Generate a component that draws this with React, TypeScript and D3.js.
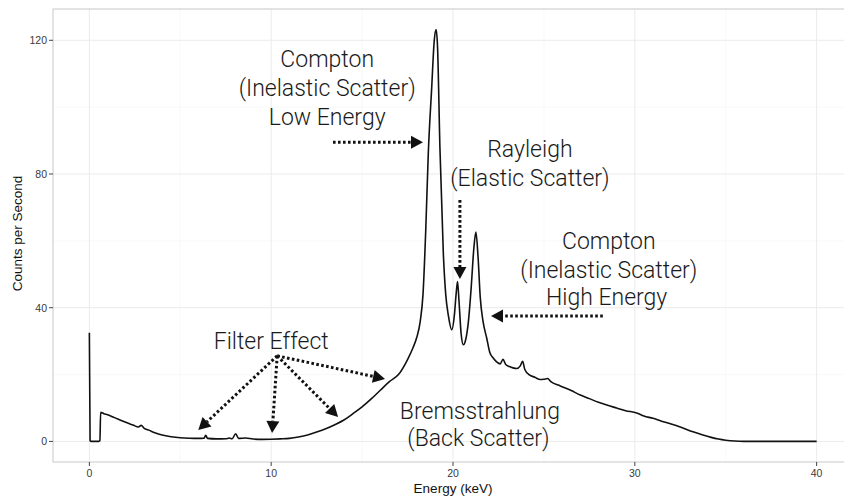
import React from "react";
import * as d3 from "d3";

const energy = [
  0, 0.04, 0.1, 0.5, 0.58, 0.62, 0.8, 1.0, 1.3, 1.6, 2.0, 2.4, 2.7, 2.85, 3.0, 3.3, 3.6, 4.0, 4.5, 5.0,
  5.5, 6.0, 6.3, 6.4, 6.5, 7.0, 7.5, 7.7, 7.85, 8.05, 8.2, 8.6, 9.0, 9.5, 10.0, 10.5, 11.0, 11.5, 12.0, 12.5,
  13.0, 13.5, 14.0, 14.5, 15.0, 15.5, 16.0, 16.5, 17.0, 17.5, 17.8, 18.0, 18.2, 18.35, 18.5, 18.64, 18.83, 18.97, 19.07, 19.15,
  19.28, 19.47, 19.6, 19.75, 19.93, 20.08, 20.17, 20.25, 20.33, 20.45, 20.57, 20.7, 20.85, 21.0, 21.15, 21.26, 21.38, 21.5, 21.65, 21.85,
  22.03, 22.2, 22.4, 22.6, 22.75, 22.9, 23.1, 23.3, 23.5, 23.7, 23.83, 23.95, 24.2, 24.5, 24.8, 25.0, 25.2, 25.4, 25.9, 26.5,
  27.0, 27.5, 28.0, 28.5, 29.0, 29.5, 30.1, 30.5, 31.0, 31.4, 32.0, 32.5, 33.2, 33.7, 34.2, 34.6, 35.0, 35.5, 36.0, 37.0,
  38.0, 39.0, 40.0,
];
const counts = [
  32.5, 0.2, 0, 0, 0.3, 8.7, 8.3, 8.0, 7.3, 6.6, 5.7, 4.9, 4.3, 4.8, 4.0, 3.3, 2.6, 1.9, 1.4, 1.1,
  0.95, 0.9, 0.95, 1.8, 0.9, 0.75, 0.8, 1.0, 0.8, 2.3, 0.9, 1.0, 0.7, 0.6, 0.65, 0.75, 0.9, 1.3, 1.9, 2.8,
  3.8, 5.0, 6.4, 8.3, 10.3, 12.7, 15.3, 17.9, 20.0, 24.5, 28.0, 31.0, 36.0, 44.0, 63.0, 86.0, 106.0, 120.0, 123.2, 118.0,
  88.0, 56.0, 44.0, 37.5, 33.4, 38.0, 44.0, 47.8, 42.0, 32.0, 28.9, 30.5, 36.0, 46.0, 58.0, 62.6, 55.0, 43.0, 36.0, 31.0,
  26.5, 25.0, 23.8, 23.2, 24.6, 23.0, 22.4, 22.0, 21.8, 22.6, 24.0, 21.5, 19.9, 19.2, 18.5, 18.6, 18.8, 17.8, 16.6, 15.2,
  13.9, 12.8, 11.7, 10.8, 10.0, 9.2, 8.5, 7.6, 6.9, 6.2, 5.2, 4.3, 2.9, 2.0, 1.2, 0.7, 0.35, 0.1, 0.02, 0,
  0, 0, 0,
];

const xTicks = [0, 10, 20, 30, 40];
const xMinor = [5, 15, 25, 35];
const yTicks = [0, 40, 80, 120];
const yMinor = [20, 60, 100];

// annotation texts: [x, y, text]
const labelX = [13.08, 13.08, 13.08, 24.23, 24.23, 28.57, 28.57, 28.45, 10.0, 21.48, 21.4];
const labelY = [114.3, 105.6, 97.0, 87.4, 78.7, 59.9, 51.3, 43.2, 30.0, 9.1, 1.0];
const labelText = [
  "Compton", "(Inelastic Scatter)", "Low Energy",
  "Rayleigh", "(Elastic Scatter)",
  "Compton", "(Inelastic Scatter)", "High Energy",
  "Filter Effect",
  "Bremsstrahlung", "(Back Scatter)",
];

// arrows: from (x0,y0) to (x1,y1) in data units
const arrowX0 = [13.4, 20.38, 28.24, 10.33, 10.33, 10.33, 10.33];
const arrowY0 = [89.5, 72.2, 37.5, 25.6, 25.6, 25.6, 25.6];
const arrowX1 = [18.35, 20.38, 22.09, 5.99, 10.05, 13.68, 16.26];
const arrowY1 = [89.5, 48.6, 37.5, 3.4, 2.5, 7.3, 18.7];

export default function App() {
  const W = 844, H = 497;
  const left = 53, top = 9, right = 853, bottom = 462;
  const x = d3.scaleLinear().domain([-2, 42]).range([left, right]);
  const y = d3.scaleLinear().domain([-6.16, 129.36]).range([bottom, top]);

  const pts = energy.map((e, i) => [e, counts[i]] as [number, number]);
  const line = d3.line<[number, number]>()
    .x(d => x(d[0]))
    .y(d => y(d[1]))
    .curve(d3.curveMonotoneX);

  const axisFont = "'Liberation Sans', Arial, Helvetica, sans-serif";
  const annFont = "Roboto, 'Liberation Sans', sans-serif";

  return (
    <svg width={W} height={H} style={{ position: "absolute", left: 0, top: 0, background: "#fff" }}>
      <rect x={0} y={0} width={W} height={H} fill="#fff" />
      {/* grid */}
      {xMinor.map(v => (
        <line key={"xm" + v} x1={x(v)} x2={x(v)} y1={top} y2={bottom} stroke="#f4f4f4" strokeWidth={0.6} />
      ))}
      {yMinor.map(v => (
        <line key={"ym" + v} x1={left} x2={right} y1={y(v)} y2={y(v)} stroke="#f4f4f4" strokeWidth={0.6} />
      ))}
      {xTicks.map(v => (
        <line key={"xg" + v} x1={x(v)} x2={x(v)} y1={top} y2={bottom} stroke="#ebebeb" strokeWidth={1} />
      ))}
      {yTicks.map(v => (
        <line key={"yg" + v} x1={left} x2={right} y1={y(v)} y2={y(v)} stroke="#ebebeb" strokeWidth={1} />
      ))}
      <rect x={left} y={top} width={right - left} height={bottom - top} fill="none" stroke="#c8c8c8" strokeWidth={1} />

      {/* axes ticks */}
      {xTicks.map(v => (
        <g key={"xt" + v}>
          <line x1={x(v)} x2={x(v)} y1={bottom} y2={bottom + 4} stroke="#444" strokeWidth={1} />
          <text x={x(v)} y={bottom + 15} textAnchor="middle" fontSize={10.5} fill="#3a3a3a" fontFamily={axisFont}>{v}</text>
        </g>
      ))}
      {yTicks.map(v => (
        <g key={"yt" + v}>
          <line x1={left - 4} x2={left} y1={y(v)} y2={y(v)} stroke="#444" strokeWidth={1} />
          <text x={left - 6} y={y(v) + 3.8} textAnchor="end" fontSize={10.5} fill="#3a3a3a" fontFamily={axisFont}>{v}</text>
        </g>
      ))}
      <text x={(left + right) / 2} y={493} textAnchor="middle" fontSize={13.5} fill="#111" fontFamily={axisFont}>
        Energy (keV)
      </text>
      <text transform={`translate(22, ${(top + bottom) / 2 - 2}) rotate(-90)`} textAnchor="middle" fontSize={13.5} fill="#111" fontFamily={axisFont}>
        Counts per Second
      </text>

      {/* data line */}
      <path d={line(pts) || ""} fill="none" stroke="#111" strokeWidth={1.6} strokeLinejoin="round" />

      {/* arrows */}
      {arrowX0.map((_, i) => {
        const x0 = x(arrowX0[i]), y0 = y(arrowY0[i]);
        const x1 = x(arrowX1[i]), y1 = y(arrowY1[i]);
        const ang = Math.atan2(y1 - y0, x1 - x0);
        const L = 12, Wd = 6.5;
        const bx = x1 - L * Math.cos(ang), by = y1 - L * Math.sin(ang);
        const px = -Math.sin(ang), py = Math.cos(ang);
        const tri = `M${x1},${y1}L${bx + px * Wd},${by + py * Wd}L${bx - px * Wd},${by - py * Wd}Z`;
        return (
          <g key={"ar" + i}>
            <line x1={x0} y1={y0} x2={bx} y2={by} stroke="#111" strokeWidth={3} strokeDasharray="2.6,2.4" />
            <path d={tri} fill="#111" />
          </g>
        );
      })}

      {/* labels */}
      {labelText.map((t, i) => (
        <text key={"lb" + i} x={x(labelX[i])} y={y(labelY[i]) + 8} textAnchor="middle" fontSize={23} fontWeight={300}
          fill="#1a1a1a" fontFamily={annFont}>{t}</text>
      ))}
    </svg>
  );
}
